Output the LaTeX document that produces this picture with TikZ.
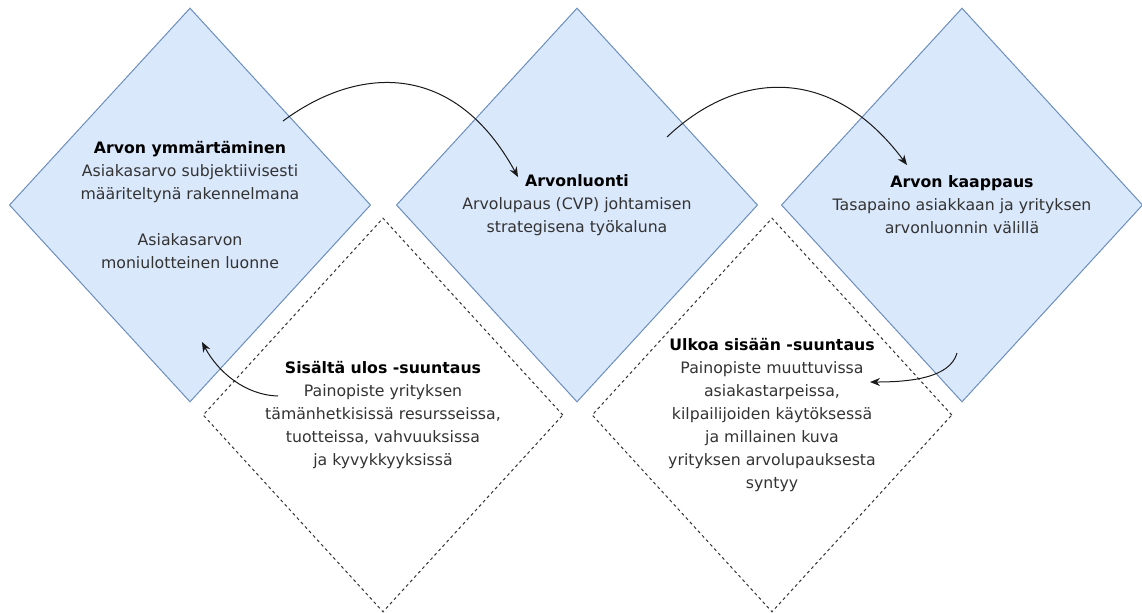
\documentclass[tikz,border=0pt]{standalone}
\usepackage{fontspec}
\setmainfont{DejaVu Sans}
\usepackage{tikz}
\usetikzlibrary{arrows.meta,shapes.geometric,positioning,calc}
\definecolor{arvoFill}{HTML}{DAE8FC}
\definecolor{arvoLine}{HTML}{6C8EBF}

\begin{document}
\begin{tikzpicture}[x=0.75pt,y=-0.75pt,
  arvo/.style={diamond,draw=arvoLine,fill=arvoFill,line width=0.75pt,minimum width=271pt,minimum height=295.5pt,inner sep=0pt},
  suunta/.style={diamond,draw=black!80,dash pattern=on 2.25pt off 2.25pt,line width=0.75pt,minimum width=270pt,minimum height=295.5pt,inner sep=0pt},
  teksti/.style={align=center,text=black!80,font=\fontsize{11.8}{17.25}\selectfont},
  nuoli/.style={-{Stealth[length=7.5pt,width=6pt]},line width=0.75pt,black!90}]
\useasboundingbox (0,0) rectangle (1142,612);
%ylarivi: sininen, alarivi: katkoviiva
\node[arvo] (ymm) at (190,205) {};
\node[arvo] (luonti) at (577,205) {};
\node[arvo] (kaappaus) at (962,205) {};
\node[suunta] (sisalta) at (383,415) {};
\node[suunta] (ulkoa) at (772,415) {};

\node[teksti] (ymmT) at (ymm) {\textcolor{black}{\textbf{Arvon ymmärtäminen}}\\Asiakasarvo subjektiivisesti\\määriteltynä rakennelmana\\[17.25pt]Asiakasarvon\\moniulotteinen luonne};
\node[teksti] (luontiT) at (luonti) {\textcolor{black}{\textbf{Arvonluonti}}\\Arvolupaus (CVP) johtamisen\\strategisena työkaluna};
\node[teksti] (kaappausT) at (kaappaus) {\textcolor{black}{\textbf{Arvon kaappaus}}\\Tasapaino asiakkaan ja yrityksen\\arvonluonnin välillä};
\node[teksti] (sisaltaT) at (sisalta) {\textcolor{black}{\textbf{Sisältä ulos -suuntaus}}\\Painopiste yrityksen\\tämänhetkisissä resursseissa,\\tuotteissa, vahvuuksissa\\ja kyvykkyyksissä};
\node[teksti] (ulkoaT) at (ulkoa) {\textcolor{black}{\textbf{Ulkoa sisään -suuntaus}}\\Painopiste muuttuvissa\\asiakastarpeissa,\\kilpailijoiden käytöksessä\\ja millainen kuva\\yrityksen arvolupauksesta\\syntyy};

%nuolten paat
\coordinate (n1a) at (283,121);
\coordinate (n1b) at (518,177);
\coordinate (n2a) at (667,137);
\coordinate (n2b) at (907,165);
\coordinate (n3a) at (957,353);
\coordinate (n3b) at (870,382);
\coordinate (n4a) at (278,396);
\coordinate (n4b) at (202,342);
\draw[nuoli] (n1a) .. controls (360,64) and (455,62) .. (n1b);
\draw[nuoli] (n2a) .. controls (735,72) and (830,62) .. (n2b);
\draw[nuoli] (n3a) .. controls (950,378) and (910,382) .. (n3b);
\draw[nuoli] (n4a) .. controls (245,395) and (218,372) .. (n4b);
\end{tikzpicture}
\end{document}
